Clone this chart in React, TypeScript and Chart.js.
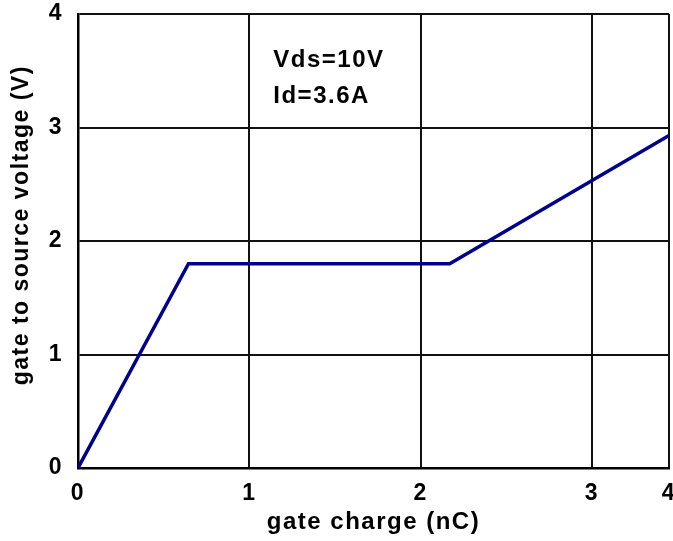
import React, { useEffect, useRef } from "react";
import { Chart, registerables } from "chart.js";

Chart.register(...registerables);

// Data (x in nC, y in V)
const gateCharge = [0, 0.645, 2.17, 3.45];
const gateVoltage = [0, 1.8, 1.8, 2.93];

// Axis ticks (the last x gridline sits at the plot edge and is labelled "4" in the original)
const X_MIN = 0;
const X_MAX = 3.45;
const xTickValues = [0, 1, 2, 3, 3.45];
const xTickLabels = ["0", "1", "2", "3", "4"];
const yTickValues = [0, 1, 2, 3, 4];
const yTickLabels = ["0", "1", "2", "3", "4"];

const xTitle = "gate charge (nC)";
const yTitle = "    gate to source voltage (V)";

const annotationLines = ["Vds=10V", "Id=3.6A"];
const annotationX = 1.14;
const annotationY = [3.59, 3.27];

const FONT_FAMILY = '"Liberation Sans", Arial, Helvetica, sans-serif';
const LETTER_SPACING = "1.5px";

const letterSpacingPlugin = {
  id: "letterSpacing",
  beforeUpdate(chart: any) {
    (chart.ctx as any).letterSpacing = LETTER_SPACING;
  },
  beforeDraw(chart: any) {
    (chart.ctx as any).letterSpacing = LETTER_SPACING;
  },
};

const annotationPlugin = {
  id: "vdsAnnotation",
  afterDatasetsDraw(chart: any) {
    const ctx = chart.ctx;
    const xs = chart.scales.x;
    const ys = chart.scales.y;
    ctx.save();
    (ctx as any).letterSpacing = LETTER_SPACING;
    ctx.font = `bold 24px ${FONT_FAMILY}`;
    ctx.fillStyle = "#000";
    ctx.textAlign = "left";
    ctx.textBaseline = "middle";
    annotationLines.forEach((t, i) => {
      ctx.fillText(t, xs.getPixelForValue(annotationX), ys.getPixelForValue(annotationY[i]));
    });
    ctx.restore();
  },
};

export default function App() {
  const canvasRef = useRef<HTMLCanvasElement | null>(null);

  useEffect(() => {
    document.body.style.margin = "0";
    const canvas = canvasRef.current;
    if (!canvas) return;
    const chart = new Chart(canvas, {
      type: "line",
      data: {
        datasets: [
          {
            data: gateCharge.map((x, i) => ({ x, y: gateVoltage[i] })),
            borderColor: "#00008c",
            borderWidth: 3.5,
            pointRadius: 0,
            tension: 0,
            fill: false,
          },
        ],
      },
      options: {
        animation: false,
        responsive: false,
        devicePixelRatio: 1,
        layout: { padding: 0 },
        plugins: {
          legend: { display: false },
          tooltip: { enabled: false },
        },
        scales: {
          x: {
            type: "linear",
            min: X_MIN,
            max: X_MAX,
            afterBuildTicks: (scale: any) => {
              scale.ticks = xTickValues.map((v) => ({ value: v }));
            },
            afterFit: (scale: any) => {
              scale.height = 73;
              scale.paddingLeft = 0;
              scale.paddingRight = 4;
            },
            ticks: {
              autoSkip: false,
              maxRotation: 0,
              padding: 12,
              color: "#000",
              font: { family: FONT_FAMILY, size: 23, weight: "bold" },
              callback: (_v: any, i: number) => xTickLabels[i],
            },
            grid: { color: "#111", lineWidth: 2, drawTicks: false },
            border: { display: true, color: "#000", width: 2.5 },
            title: {
              display: true,
              text: xTitle,
              color: "#000",
              font: { family: FONT_FAMILY, size: 24, weight: "bold" },
              padding: { top: 0, bottom: 4 },
            },
          },
          y: {
            type: "linear",
            min: 0,
            max: 4,
            afterBuildTicks: (scale: any) => {
              scale.ticks = yTickValues.map((v) => ({ value: v }));
            },
            afterFit: (scale: any) => {
              scale.width = 78;
              scale.paddingTop = 14;
              scale.paddingBottom = 0;
            },
            ticks: {
              padding: 15,
              color: "#000",
              font: { family: FONT_FAMILY, size: 23, weight: "bold" },
              callback: (_v: any, i: number) => yTickLabels[i],
            },
            grid: { color: "#111", lineWidth: 2, drawTicks: false },
            border: { display: true, color: "#000", width: 2.5 },
            title: {
              display: true,
              text: yTitle,
              color: "#000",
              font: { family: FONT_FAMILY, size: 23, weight: "bold" },
              padding: { top: 8, bottom: 0 },
            },
          },
        },
      },
      plugins: [letterSpacingPlugin, annotationPlugin],
    } as any);
    return () => chart.destroy();
  }, []);

  return (
    <div style={{ position: "fixed", left: 0, top: 0, width: 673, height: 541, background: "#fff" }}>
      <canvas ref={canvasRef} width={673} height={541} style={{ display: "block" }} />
    </div>
  );
}
